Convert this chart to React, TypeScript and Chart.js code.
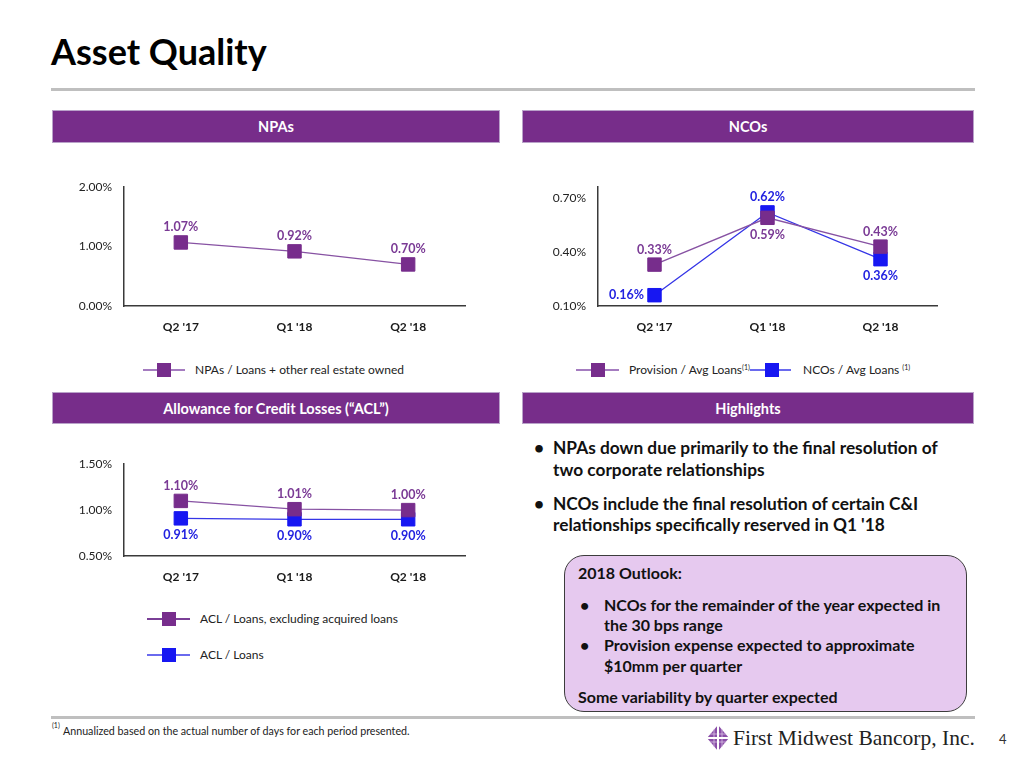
import React, { useEffect, useRef } from 'react';
import { Chart, registerables } from 'chart.js';

Chart.register(...registerables);
Chart.defaults.font.family = 'Lato';

// ---------- data ----------
const quarters = ["Q2 '17", "Q1 '18", "Q2 '18"];

const npaLabel = 'NPAs / Loans + other real estate owned';
const npaValues = [1.07, 0.92, 0.70];
const npaTicks = [0, 1, 2];

const provisionLabel = 'Provision / Avg Loans';
const provisionValues = [0.33, 0.59, 0.43];
const ncoLabel = 'NCOs / Avg Loans';
const ncoValues = [0.16, 0.62, 0.36];
const ncoTicks = [0.1, 0.4, 0.7];

const aclExLabel = 'ACL / Loans, excluding acquired loans';
const aclExValues = [1.10, 1.01, 1.00];
const aclLabel = 'ACL / Loans';
const aclValues = [0.91, 0.90, 0.90];
const aclTicks = [0.5, 1.0, 1.5];

// ---------- styles ----------
const PURPLE = '#772D8C';
const PURPLE_LINE = '#8752A3';
const PURPLE_TEXT = '#7A3A95';
const BLUE = '#1717F2';
const BLUE_LINE = '#3535E6';
const BLUE_TEXT = '#2222E0';
const FONT = 'Lato, "Open Sans", sans-serif';

type Place = 'above' | 'below' | 'left';

const valueLabelPlugin = {
  id: 'valueLabels',
  afterDatasetsDraw(chart: any) {
    const ctx = chart.ctx;
    chart.data.datasets.forEach((ds: any, i: number) => {
      const meta = chart.getDatasetMeta(i);
      meta.data.forEach((pt: any, j: number) => {
        const v = ds.data[j] as number;
        const place: Place = ds.places[j];
        let x = pt.x;
        let y = pt.y;
        if (place === 'above') y -= 15;
        else if (place === 'below') y += 17;
        else if (place === 'left') x -= 28;
        ctx.save();
        ctx.font = 'bold 12.5px Lato';
        ctx.fillStyle = ds.labelColor;
        ctx.textAlign = 'center';
        ctx.textBaseline = 'middle';
        ctx.fillText(v.toFixed(2) + '%', x, y);
        ctx.restore();
      });
    });
  },
};

interface Series {
  label: string;
  data: number[];
  color: string;
  lineColor: string;
  labelColor: string;
  places: Place[];
}

interface ChartProps {
  x: number;
  y: number;
  w: number;
  h: number;
  yW: number;
  xH: number;
  padTop: number;
  padRight: number;
  min: number;
  max: number;
  ticks: number[];
  series: Series[];
}

function LineChart(p: ChartProps) {
  const ref = useRef<HTMLCanvasElement>(null);
  useEffect(() => {
    const axisBorder = { display: true, color: '#3a3a3a', width: 1.5 };
    const chart = new Chart(ref.current as HTMLCanvasElement, {
      type: 'line',
      data: {
        labels: quarters,
        datasets: p.series.map((s) => ({
          label: s.label,
          data: s.data,
          borderColor: s.lineColor,
          backgroundColor: s.color,
          pointBackgroundColor: s.color,
          pointBorderColor: s.color,
          pointBorderWidth: 1,
          pointStyle: 'rect',
          pointRadius: 9.5,
          pointHoverRadius: 9.5,
          borderWidth: 1.3,
          tension: 0,
          places: s.places,
          labelColor: s.labelColor,
        })) as any,
      },
      options: {
        responsive: false,
        animation: false,
        devicePixelRatio: 1,
        events: [],
        layout: { padding: { top: p.padTop, right: p.padRight, left: 0, bottom: 0 } },
        plugins: { legend: { display: false }, tooltip: { enabled: false } },
        scales: {
          x: {
            type: 'category',
            offset: true,
            grid: { display: false, drawTicks: false },
            border: axisBorder,
            ticks: { font: { family: 'Lato', weight: 'bold', size: 12 }, color: '#1a1a1a', padding: 14 },
            afterFit: (s: any) => {
              s.height = p.xH;
            },
          },
          y: {
            type: 'linear',
            min: p.min,
            max: p.max,
            grid: { display: false, drawTicks: false },
            border: axisBorder,
            ticks: {
              font: { family: 'Lato', size: 12 },
              color: '#222',
              padding: 12,
              callback: (v: any) => Number(v).toFixed(2) + '%',
            },
            afterBuildTicks: (s: any) => {
              s.ticks = p.ticks.map((v) => ({ value: v }));
            },
            afterFit: (s: any) => {
              s.width = p.yW;
            },
          },
        },
      } as any,
      plugins: [valueLabelPlugin],
    });
    return () => chart.destroy();
  }, []);
  return (
    <canvas
      ref={ref}
      width={p.w}
      height={p.h}
      style={{ position: 'absolute', left: p.x, top: p.y, width: p.w, height: p.h }}
    />
  );
}

function Text(props: {
  x: number;
  y: number;
  size: number;
  bold?: boolean;
  color?: string;
  family?: string;
  children: React.ReactNode;
}) {
  const lh = Math.round(props.size * 1.2);
  return (
    <div
      style={{
        position: 'absolute',
        left: props.x,
        top: props.y - lh / 2,
        fontSize: props.size,
        lineHeight: lh + 'px',
        fontWeight: props.bold ? 700 : 400,
        color: props.color || '#111',
        fontFamily: props.family || FONT,
        whiteSpace: 'nowrap',
      }}
    >
      {props.children}
    </div>
  );
}

function HeaderBar(props: { x: number; y: number; w: number; h: number; title: string }) {
  return (
    <div
      style={{
        position: 'absolute',
        left: props.x,
        top: props.y,
        width: props.w,
        height: props.h,
        boxSizing: 'border-box',
        background: '#772D8A',
        border: '1px solid #B9A2C9',
        color: '#fff',
        fontFamily: FONT,
        fontWeight: 700,
        fontSize: 14.5,
        display: 'flex',
        alignItems: 'center',
        justifyContent: 'center',
      }}
    >
      {props.title}
    </div>
  );
}

function LegendItem(props: {
  y: number;
  lineX1: number;
  lineX2: number;
  markX: number;
  textX: number;
  color: string;
  lineColor: string;
  label: string;
  sup?: boolean;
}) {
  return (
    <>
      <div
        style={{
          position: 'absolute',
          left: props.lineX1,
          top: props.y - 1,
          width: props.lineX2 - props.lineX1,
          height: 2,
          background: props.lineColor,
        }}
      />
      <div
        style={{
          position: 'absolute',
          left: props.markX - 7,
          top: props.y - 7,
          width: 14,
          height: 14,
          background: props.color,
        }}
      />
      <Text x={props.textX} y={props.y} size={12} color="#222">
        {props.label}
        {props.sup ? <sup style={{ fontSize: 7, verticalAlign: 'top', position: 'relative', top: -3 }}>(1)</sup> : null}
      </Text>
    </>
  );
}

function Logo() {
  return (
    <svg width="22" height="26" viewBox="0 0 22 26" style={{ position: 'absolute', left: 707, top: 725 }}>
      <polygon points="11,0 22,13 11,26 0,13" fill="#8A4FA8" />
      <g stroke="#D9C3E4" strokeWidth="0.8">
        <line x1="7" y1="4" x2="7" y2="22" />
        <line x1="15" y1="4" x2="15" y2="22" />
        <line x1="3" y1="9" x2="19" y2="9" />
        <line x1="3" y1="17" x2="19" y2="17" />
      </g>
      <g stroke="#fff" strokeWidth="2">
        <line x1="11" y1="0" x2="11" y2="26" />
        <line x1="0" y1="13" x2="22" y2="13" />
      </g>
    </svg>
  );
}

export default function App() {
  return (
    <div
      style={{
        position: 'fixed',
        left: 0,
        top: 0,
        width: 1024,
        height: 768,
        background: '#fff',
        overflow: 'hidden',
        fontFamily: FONT,
      }}
    >
      {/* title */}
      <div
        style={{
          position: 'absolute',
          left: 51,
          top: 29,
          fontSize: 36,
          lineHeight: '44px',
          fontWeight: 700,
          color: '#000',
          fontFamily: FONT,
        }}
      >
        Asset Quality
      </div>
      <div style={{ position: 'absolute', left: 51, top: 88, width: 924, height: 3, background: '#BFBFBF' }} />

      {/* section headers */}
      <HeaderBar x={52} y={110} w={448} h={33} title="NPAs" />
      <HeaderBar x={522} y={110} w={452} h={33} title="NCOs" />
      <HeaderBar x={52} y={392} w={448} h={32} title="Allowance for Credit Losses (“ACL”)" />
      <HeaderBar x={522} y={392} w={452} h={32} title="Highlights" />

      {/* NPAs chart */}
      <LineChart
        x={52}
        y={168}
        w={440}
        h={170}
        yW={72}
        xH={32}
        padTop={17}
        padRight={27}
        min={0}
        max={2}
        ticks={npaTicks}
        series={[
          {
            label: npaLabel,
            data: npaValues,
            color: PURPLE,
            lineColor: PURPLE_LINE,
            labelColor: PURPLE_TEXT,
            places: ['above', 'above', 'above'],
          },
        ]}
      />
      <LegendItem y={370} lineX1={143} lineX2={185} markX={164} textX={195} color={PURPLE} lineColor="#A57CC0" label={npaLabel} />

      {/* NCOs chart */}
      <LineChart
        x={522}
        y={168}
        w={440}
        h={170}
        yW={76}
        xH={32}
        padTop={16}
        padRight={25}
        min={0.1}
        max={0.76}
        ticks={ncoTicks}
        series={[
          {
            label: provisionLabel,
            data: provisionValues,
            color: PURPLE,
            lineColor: PURPLE_LINE,
            labelColor: PURPLE_TEXT,
            places: ['above', 'below', 'above'],
          },
          {
            label: ncoLabel,
            data: ncoValues,
            color: BLUE,
            lineColor: BLUE_LINE,
            labelColor: BLUE_TEXT,
            places: ['left', 'above', 'below'],
          },
        ]}
      />
      <LegendItem y={370} lineX1={576} lineX2={619} markX={598} textX={629} color={PURPLE} lineColor="#A57CC0" label={provisionLabel} sup />
      <LegendItem y={370} lineX1={750} lineX2={791} markX={772} textX={803} color={BLUE} lineColor="#6A6AEE" label={ncoLabel + ' '} sup />

      {/* ACL chart */}
      <LineChart
        x={52}
        y={445}
        w={440}
        h={143}
        yW={72}
        xH={32}
        padTop={16}
        padRight={27}
        min={0.5}
        max={1.5}
        ticks={aclTicks}
        series={[
          {
            label: aclExLabel,
            data: aclExValues,
            color: PURPLE,
            lineColor: PURPLE_LINE,
            labelColor: PURPLE_TEXT,
            places: ['above', 'above', 'above'],
          },
          {
            label: aclLabel,
            data: aclValues,
            color: BLUE,
            lineColor: BLUE_LINE,
            labelColor: BLUE_TEXT,
            places: ['below', 'below', 'below'],
          },
        ]}
      />
      <LegendItem y={619} lineX1={147} lineX2={190} markX={169} textX={200} color={PURPLE} lineColor="#7A3F96" label={aclExLabel} />
      <LegendItem y={655} lineX1={147} lineX2={190} markX={169} textX={200} color={BLUE} lineColor="#6A6AEE" label={aclLabel} />

      {/* highlights */}
      <Text x={534} y={447} size={17.3} bold>•</Text>
      <Text x={553} y={447} size={17.3} bold>NPAs down due primarily to the final resolution of</Text>
      <Text x={553} y={469} size={17.3} bold>two corporate relationships</Text>
      <Text x={534} y={503} size={17.3} bold>•</Text>
      <Text x={553} y={503} size={17.3} bold>NCOs include the final resolution of certain C&amp;I</Text>
      <Text x={553} y={524} size={17.3} bold>relationships specifically reserved in Q1 '18</Text>

      {/* outlook box */}
      <div
        style={{
          position: 'absolute',
          left: 564,
          top: 555,
          width: 403,
          height: 157,
          boxSizing: 'border-box',
          background: '#E6C9EF',
          border: '1.5px solid #3c3c3c',
          borderRadius: 20,
        }}
      />
      <Text x={578} y={572} size={16} bold>2018 Outlook:</Text>
      <Text x={580} y={604} size={16} bold>•</Text>
      <Text x={604} y={604} size={16} bold>NCOs for the remainder of the year expected in</Text>
      <Text x={604} y={624} size={16} bold>the 30 bps range</Text>
      <Text x={580} y={644} size={16} bold>•</Text>
      <Text x={604} y={644} size={16} bold>Provision expense expected to approximate</Text>
      <Text x={604} y={665} size={16} bold>$10mm per quarter</Text>
      <Text x={578} y={696} size={16} bold>Some variability by quarter expected</Text>

      {/* footer */}
      <div style={{ position: 'absolute', left: 51, top: 716, width: 924, height: 3, background: '#BFBFBF' }} />
      <Text x={52} y={725} size={7} color="#222">(1)</Text>
      <Text x={63} y={730} size={10.7} color="#222">Annualized based on the actual number of days for each period presented.</Text>
      <Logo />
      <Text x={733} y={738} size={21.5} family='"Liberation Serif", "DejaVu Serif", serif' color="#222">First Midwest Bancorp, Inc.</Text>
      <Text x={999} y={739} size={13} color="#333">4</Text>
    </div>
  );
}
